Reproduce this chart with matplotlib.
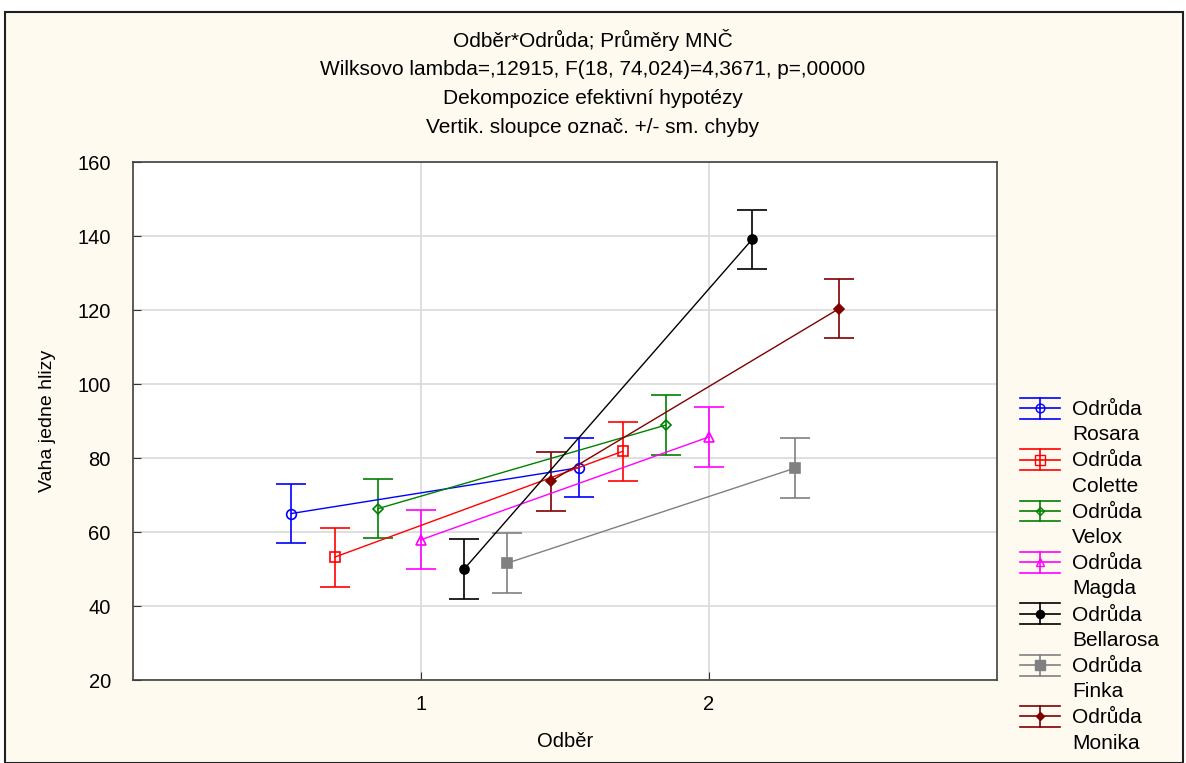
import numpy as np
import matplotlib.pyplot as plt
from matplotlib.lines import Line2D
from matplotlib.legend_handler import HandlerBase
from matplotlib.patches import Rectangle

plt.rcParams['font.family'] = ['Liberation Sans', 'DejaVu Sans']

# data
odber = [1, 2]
odrudy = ["Rosara", "Colette", "Velox", "Magda", "Bellarosa", "Finka", "Monika"]
offsets = [-0.45, -0.30, -0.15, 0.0, 0.15, 0.30, 0.45]
rosara = [65.0, 77.4]
colette = [53.2, 81.8]
velox = [66.3, 88.9]
magda = [57.9, 85.7]
bellarosa = [50.0, 139.1]
finka = [51.6, 77.3]
monika = [73.7, 120.3]
se = [8.0, 8.0]

prumery = [rosara, colette, velox, magda, bellarosa, finka, monika]
barvy = ["#0000ff", "#ff0000", "#008000", "#ff00ff", "#000000", "#808080", "#800000"]
znacky = ["o", "s", "D", "^", "o", "s", "D"]
plne = [False, False, False, False, True, True, True]
velikosti = [7, 7.5, 5, 7, 6.5, 7.5, 5]


class ChybaHandler(HandlerBase):
    # statistica style legend key: caps over the whole key width,
    # placed next to the first line of the label
    def __init__(self, color, marker, filled, ms):
        super().__init__()
        self.color = color
        self.marker = marker
        self.filled = filled
        self.ms = ms

    def create_artists(self, legend, orig_handle, xdescent, ydescent,
                       width, height, fontsize, trans):
        y0 = height / 2 - ydescent + 0.68 * fontsize
        h = 0.5 * fontsize
        art = []
        for yy in [y0 - h, y0, y0 + h]:
            art.append(Line2D([-xdescent, width - xdescent], [yy, yy],
                              color=self.color, lw=1.2, transform=trans))
        xm = (width - 2 * xdescent) / 2
        art.append(Line2D([xm, xm], [y0 - h, y0 + h], color=self.color,
                          lw=1.2, transform=trans))
        art.append(Line2D([xm], [y0], marker=self.marker, ms=self.ms * 0.9,
                          color=self.color,
                          mfc=self.color if self.filled else "none",
                          mec=self.color, transform=trans))
        return art


fig = plt.figure(figsize=(11.86, 7.63), dpi=100, facecolor="white")
fig.patches.append(Rectangle((5 / 1186, 0), 1 - 8 / 1186, 1 - 12 / 763,
                             transform=fig.transFigure, facecolor="#fffaf0",
                             edgecolor="#202020", lw=1.5, zorder=-10))

ax = fig.add_axes([133 / 1186, 83 / 763, 864 / 1186, 518 / 763])
ax.set_facecolor("white")

handles = []
labels = []
handler_map = {}
for i in range(len(odrudy)):
    x = np.array(odber) + offsets[i]
    c = barvy[i]
    ax.errorbar(x, prumery[i], yerr=se, color=c, lw=1, elinewidth=1.2,
                capsize=11, capthick=1.2, marker=znacky[i],
                ms=velikosti[i], mfc=c if plne[i] else "none", mec=c,
                mew=1.2, zorder=3)
    h = Line2D([], [], color=c)
    handles.append(h)
    labels.append("Odrůda\n" + odrudy[i])
    handler_map[h] = ChybaHandler(c, znacky[i], plne[i], velikosti[i])

ax.set_xlim(0, 3)
ax.set_ylim(20, 160)
ax.set_xticks([1, 2])
ax.set_yticks(np.arange(20, 161, 20))
ax.grid(True, color="#d9d9d9", lw=1.2)
ax.set_axisbelow(True)
ax.tick_params(direction="in", length=6, labelsize=14.5, color="#333333")
ax.tick_params(axis="y", pad=16)
ax.tick_params(axis="x", pad=11)
for s in ax.spines.values():
    s.set_color("#404040")
    s.set_linewidth(1.2)

ax.set_xlabel("Odběr", fontsize=14.5, labelpad=12.5)
ax.set_ylabel("Vaha jedne hlizy", fontsize=14, labelpad=15)

tituly = ["Odběr*Odrůda; Průměry MNČ",
          "Wilksovo lambda=,12915, F(18, 74,024)=4,3671, p=,00000",
          "Dekompozice efektivní hypotézy",
          "Vertik. sloupce označ. +/- sm. chyby"]
for k, t in enumerate(tituly):
    fig.text(0.5, 1 - (40 + 29.3 * k) / 763, t, ha="center", va="center",
             fontsize=15)

leg = fig.legend(handles, labels, handler_map=handler_map, loc="upper left",
                 bbox_to_anchor=(1020 / 1186, 1 - 400 / 763), frameon=False,
                 fontsize=15, handlelength=1.92, handletextpad=0.58,
                 labelspacing=0.34, borderaxespad=0, borderpad=0)
for t in leg.get_texts():
    t.set_linespacing(1.42)

fig.savefig("out.png", dpi=100, facecolor=fig.get_facecolor())
